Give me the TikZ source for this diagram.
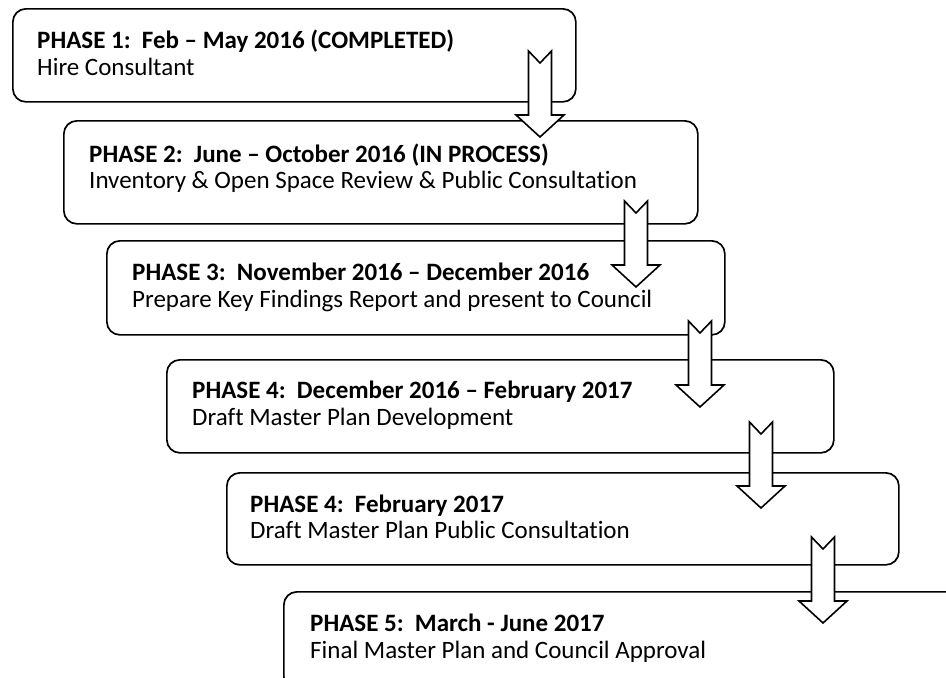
\documentclass[tikz,border=0pt]{standalone}
\usepackage{fontspec}
\setmainfont{Carlito}[Ligatures=NoCommon]
\begin{document}
\begin{tikzpicture}[x=1pt,y=-1pt,
  box/.style={draw, line width=1.7pt, rounded corners=13pt, anchor=north west, inner sep=0pt},
  heading/.style={anchor=base west, font=\fontsize{25}{27}\selectfont\bfseries},
  detail/.style={anchor=base west, font=\fontsize{25}{27}\selectfont},
  arrowline/.style={draw, fill=white, line width=1.6pt, line join=miter},
  downarrow/.pic={\path[arrowline] (0,0) -- (24,-22) -- (11.5,-22) -- (11.5,-86) -- (0,-74)
    -- (-11.5,-86) -- (-11.5,-22) -- (-24,-22) -- cycle;}]
\tikzstyle{every node}+=[inner sep=0pt]
\useasboundingbox (0,0) rectangle (946,678);
\clip (0,0) rectangle (946,678);

\node[box, minimum width=563pt, minimum height=93pt] (b1) at (12,8) {};
\node[box, minimum width=634pt, minimum height=103pt] (b2) at (63,120) {};
\node[box, minimum width=618pt, minimum height=94pt] (b3) at (106,240) {};
\node[box, minimum width=667pt, minimum height=93pt] (b4) at (166,359) {};
\node[box, minimum width=672pt, minimum height=92pt] (b5) at (226,472) {};
\node[box, minimum width=676pt, minimum height=98pt] (b6) at (283,591) {};

\node[heading] (h1) at ([shift={(25,40)}]b1.north west) {PHASE 1:\ \ Feb -- May 2016 (COMPLETED)};
\node[detail] (d1) at ([shift={(25,67)}]b1.north west) {Hire Consultant};
\node[heading] (h2) at ([shift={(26,42)}]b2.north west) {PHASE 2:\ \ June -- October 2016 (IN PROCESS)};
\node[detail] (d2) at ([shift={(26,68)}]b2.north west) {Inventory \& Open Space Review \& Public Consultation};
\node[heading] (h3) at ([shift={(26,40)}]b3.north west) {PHASE 3:\ \ November 2016 -- December 2016};
\node[detail] (d3) at ([shift={(26,67)}]b3.north west) {Prepare Key Findings Report and present to Council};
\node[heading] (h4) at ([shift={(26,39)}]b4.north west) {PHASE 4:\ \ December 2016 -- February 2017};
\node[detail] (d4) at ([shift={(26,66)}]b4.north west) {Draft Master Plan Development};
\node[heading] (h5) at ([shift={(24,40)}]b5.north west) {PHASE 4:\ \ February 2017};
\node[detail] (d5) at ([shift={(24,66)}]b5.north west) {Draft Master Plan Public Consultation};
\node[heading] (h6) at ([shift={(27,40)}]b6.north west) {PHASE 5:\ \ March - June 2017};
\node[detail] (d6) at ([shift={(27,67)}]b6.north west) {Final Master Plan and Council Approval};

\coordinate (a1) at (540,137);
\coordinate (a2) at (636,287);
\coordinate (a3) at (700,407);
\coordinate (a4) at (761,508);
\coordinate (a5) at (823,623);
\pic at (a1) {downarrow};
\pic at (a2) {downarrow};
\pic at (a3) {downarrow};
\pic at (a4) {downarrow};
\pic at (a5) {downarrow};
\end{tikzpicture}
\end{document}
